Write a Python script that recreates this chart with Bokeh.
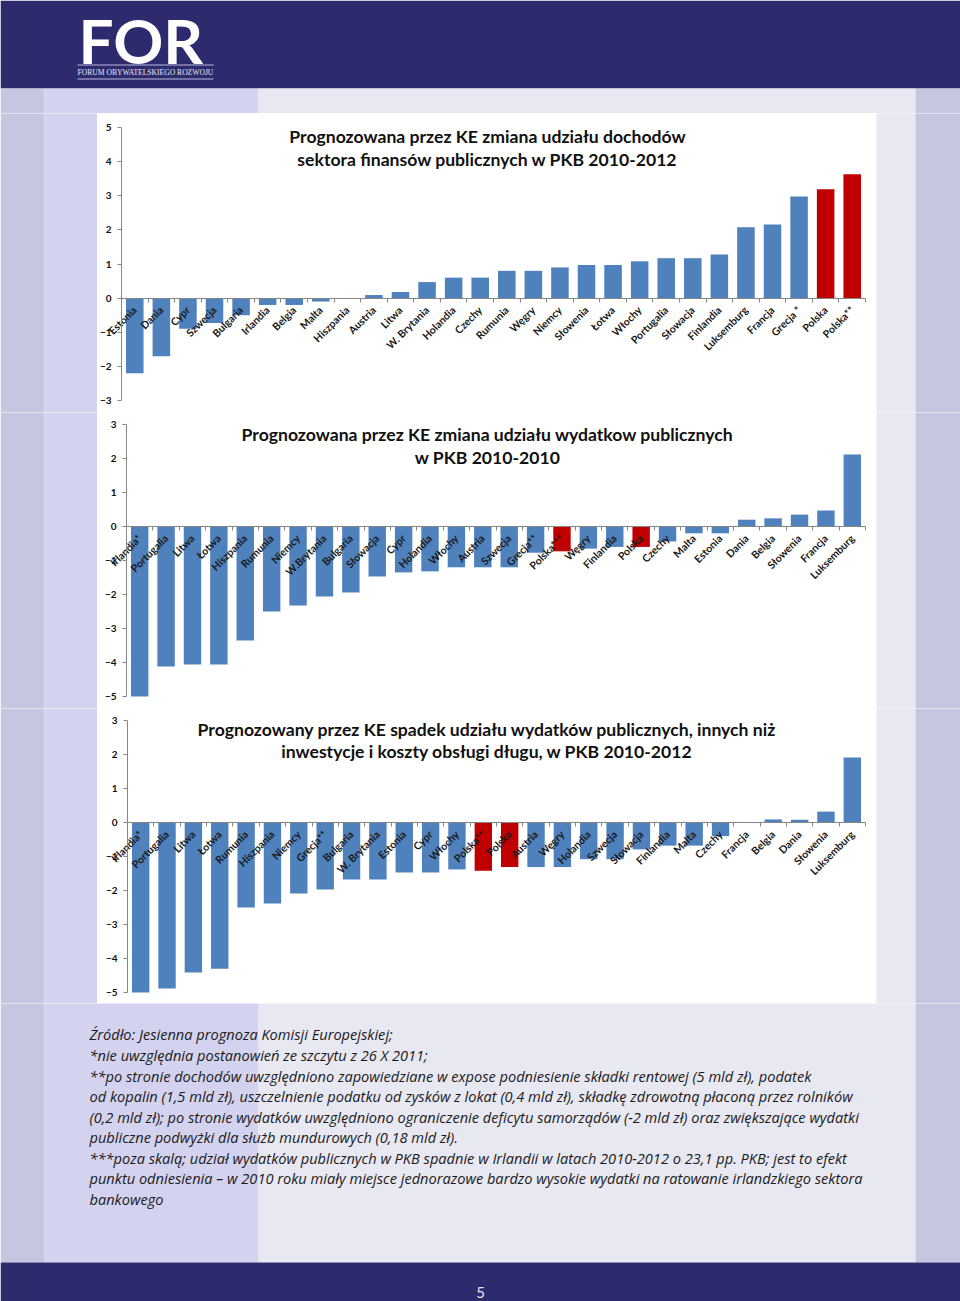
from math import pi
from bokeh.plotting import figure
from bokeh.models import Range1d, FixedTicker, LinearAxis, Label
from bokeh.layouts import column, row
from bokeh.embed import file_html
from bokeh.resources import INLINE
from bokeh.core.properties import value

# ---------------- data ----------------
cats_dochody = ["Estonia", "Dania", "Cypr", "Szwecja", "Bulgaria", "Irlandia", "Belgia", "Malta",
                "Hiszpania", "Austria", "Litwa", "W. Brytania", "Holandia", "Czechy", "Rumunia",
                "Węgry", "Niemcy", "Słowenia", "Łotwa", "Włochy", "Portugalia", "Słowacja",
                "Finlandia", "Luksemburg", "Francja", "Grecja *", "Polska", "Polska**"]
vals_dochody = [-2.2, -1.7, -0.9, -0.73, -0.5, -0.2, -0.2, -0.1,
                0.0, 0.09, 0.18, 0.47, 0.6, 0.6, 0.8,
                0.8, 0.9, 0.97, 0.97, 1.08, 1.17, 1.17,
                1.28, 2.08, 2.16, 2.98, 3.19, 3.63]

cats_wydatki = ["Irlandia*", "Portugalia", "Litwa", "Łotwa", "Hiszpania", "Rumunia", "Niemcy",
                "W.Brytania", "Bulgaria", "Słowacja", "Cypr", "Holandia", "Włochy", "Austria",
                "Szwecja", "Grecja**", "Polska***", "Węgry", "Finlandia", "Polska", "Czechy",
                "Malta", "Estonia", "Dania", "Belgia", "Słowenia", "Francja", "Luksemburg"]
vals_wydatki = [-5.0, -4.12, -4.06, -4.06, -3.35, -2.5, -2.32,
                -2.06, -1.94, -1.47, -1.35, -1.32, -1.2, -1.2,
                -1.2, -0.77, -0.73, -0.65, -0.6, -0.6, -0.44,
                -0.2, -0.2, 0.2, 0.24, 0.35, 0.47, 2.12]

cats_wydatki_bez = ["Irlandia*", "Portugalia", "Litwa", "Łotwa", "Rumunia", "Hiszpania", "Niemcy",
                    "Grecja**", "Bulgaria", "W. Brytania", "Estonia", "Cypr", "Włochy", "Polska**",
                    "Polska", "Austria", "Węgry", "Holandia", "Szwecja", "Słowacja", "Finlandia",
                    "Malta", "Czechy", "Francja", "Belgia", "Dania", "Słowenia", "Luksemburg"]
vals_wydatki_bez = [-5.0, -4.88, -4.41, -4.3, -2.5, -2.38, -2.09,
                    -1.97, -1.68, -1.68, -1.47, -1.47, -1.38, -1.42,
                    -1.31, -1.31, -1.31, -1.08, -1.08, -0.79, -0.68,
                    -0.68, -0.4, 0.0, 0.09, 0.08, 0.32, 1.91]

titles_dochody = ["Prognozowana przez KE zmiana udziału dochodów",
                  "sektora finansów publicznych w PKB 2010-2012"]
titles_wydatki = ["Prognozowana przez KE zmiana udziału wydatkow publicznych",
                  "w PKB 2010-2010"]
titles_wydatki_bez = ["Prognozowany przez KE spadek udziału wydatków publicznych, innych niż",
                      "inwestycje i koszty obsługi długu, w PKB 2010-2012"]

footnotes = [
    "Źródło: Jesienna prognoza Komisji Europejskiej;",
    "*nie uwzględnia postanowień ze szczytu z 26 X 2011;",
    "**po stronie dochodów uwzględniono zapowiedziane w expose podniesienie składki rentowej (5 mld zł), podatek",
    "od kopalin (1,5 mld zł), uszczelnienie podatku od zysków z lokat (0,4 mld zł), składkę zdrowotną płaconą przez rolników",
    "(0,2 mld zł); po stronie wydatków uwzględniono ograniczenie deficytu samorządów (-2 mld zł) oraz zwiększające wydatki",
    "publiczne podwyżki dla służb mundurowych (0,18 mld zł).",
    "***poza skalą; udział wydatków publicznych w PKB spadnie w Irlandii w latach 2010-2012 o 23,1 pp. PKB; jest to efekt",
    "punktu odniesienia – w 2010 roku miały miejsce jednorazowe bardzo wysokie wydatki na ratowanie irlandzkiego sektora",
    "bankowego",
]

# ---------------- styles ----------------
NAVY = "#2d2a6d"
STRIP = "#c7c6e0"
LAV = "#d4d3ef"
LIGHT = "#e8e8f3"
BLUE = "#4f81bd"
RED = "#c00000"
AXIS = "#868686"
FONT = "Lato"


def page_bg(p):
    p.quad(left=[0, 0, 44, 258, 915, 0], right=[960, 44, 258, 915, 960, 960],
           top=[0, 88, 88, 88, 88, 1262], bottom=[88, 1262, 1262, 1262, 1262, 1301],
           fill_color=[NAVY, STRIP, LAV, LIGHT, STRIP, NAVY], line_color=None)


def bg_fig(x0, x1, y0, y1):
    p = figure(width=x1 - x0, height=y1 - y0, x_range=Range1d(x0, x1), y_range=Range1d(y1, y0),
               toolbar_location=None, output_backend="svg", x_axis_type=None, y_axis_type=None,
               min_border=0)
    p.grid.visible = False
    p.outline_line_color = None
    p.background_fill_color = None
    p.border_fill_color = None
    page_bg(p)
    return p


def chart(cats, vals, titles, ymin, ymax, box, frame, title_px):
    x0, x1, y0, y1 = box
    fx0, fx1, fy0, fy1 = frame
    n = len(cats)
    u = n / (fx1 - fx0)               # x data units per pixel
    v = (ymax - ymin) / (fy1 - fy0)   # y data units per pixel
    p = figure(width=x1 - x0, height=y1 - y0,
               x_range=Range1d(-(fx0 - x0) * u, n + (x1 - fx1) * u),
               y_range=Range1d(ymin - (y1 - fy1) * v, ymax + (fy0 - y0) * v),
               toolbar_location=None, output_backend="svg", x_axis_type=None, y_axis_type=None,
               min_border=0)
    p.grid.visible = False
    p.outline_line_color = None
    p.background_fill_color = "white"
    p.border_fill_color = "white"

    xs = [i + 0.5 for i in range(n)]
    colors = [RED if c.startswith("Polska") else BLUE for c in cats]
    p.vbar(x=xs, top=vals, bottom=0, width=0.66, fill_color=colors, line_color=None)

    yax = LinearAxis(ticker=FixedTicker(ticks=list(range(ymin, ymax + 1))), fixed_location=0,
                     bounds=(ymin, ymax))
    yax.axis_line_color = AXIS
    yax.major_tick_line_color = AXIS
    yax.major_tick_out = 4
    yax.major_tick_in = 0
    yax.minor_tick_line_color = None
    yax.major_label_standoff = 6
    yax.major_label_text_font = FONT
    yax.major_label_text_font_style = "bold"
    yax.major_label_text_font_size = "10px"
    yax.major_label_text_color = "#111111"
    p.add_layout(yax, "left")

    tick_ax = LinearAxis(ticker=FixedTicker(ticks=list(range(n + 1))), fixed_location=0,
                         bounds=(0, n))
    tick_ax.axis_line_color = AXIS
    tick_ax.major_tick_line_color = AXIS
    tick_ax.major_tick_out = 4
    tick_ax.major_tick_in = 0
    tick_ax.minor_tick_line_color = None
    tick_ax.major_label_overrides = {i: "" for i in range(n + 1)}
    tick_ax.major_label_text_font_size = "1px"
    p.add_layout(tick_ax, "below")

    lab_ax = LinearAxis(ticker=FixedTicker(ticks=xs), fixed_location=0)
    lab_ax.axis_line_color = None
    lab_ax.major_tick_line_color = None
    lab_ax.minor_tick_line_color = None
    lab_ax.major_label_overrides = {x: c for x, c in zip(xs, cats)}
    lab_ax.major_label_orientation = pi / 4
    lab_ax.major_label_standoff = 4
    lab_ax.major_label_text_font = FONT
    lab_ax.major_label_text_font_style = "bold"
    lab_ax.major_label_text_font_size = "10.5px"
    lab_ax.major_label_text_color = "#1a1a1a"
    p.add_layout(lab_ax, "below")

    tx = (title_px[0] - fx0) * u
    for t, py in zip(titles, title_px[1:]):
        ty = ymax - (py - fy0) * v
        p.add_layout(Label(x=tx, y=ty, text=t, text_align="center", text_baseline="middle",
                           text_font=FONT, text_font_style="bold", text_font_size="17.6px",
                           text_color="#111111"))
    return p


# ---------------- page ----------------
top = bg_fig(0, 960, 0, 113)
top.text(x=[78], y=[39.5], text=["FOR"], text_font=value(FONT), text_font_style="bold",
         text_font_size="62px", text_color="white", text_baseline="middle", text_align="left")
top.segment(x0=[77, 77], y0=[64.5, 78.5], x1=[213, 213], y1=[64.5, 78.5],
            line_color="#b8b8e0", line_width=1)
top.text(x=[77], y=[71.5], text=["FORUM OBYWATELSKIEGO ROZWOJU"], text_font=value("Liberation Serif"),
         text_font_size="7.6px", text_color="#e8e8f6", text_baseline="middle", text_align="left")

c1 = chart(cats_dochody, vals_dochody, titles_dochody, -3, 5,
           (97, 876, 113, 412), (121, 865, 127, 400), (487, 136, 159))
c2 = chart(cats_wydatki, vals_wydatki, titles_wydatki, -5, 3,
           (97, 876, 412, 708), (126, 865, 424, 696), (487, 434, 457))
c3 = chart(cats_wydatki_bez, vals_wydatki_bez, titles_wydatki_bez, -5, 3,
           (97, 876, 708, 1003), (127, 865, 720, 992), (486.5, 729, 751))

rows = []
for c, (ya, yb) in zip([c1, c2, c3], [(113, 412), (412, 708), (708, 1003)]):
    rows.append(row(bg_fig(0, 97, ya, yb), c, bg_fig(876, 960, ya, yb), spacing=0))

bottom = bg_fig(0, 960, 1003, 1301)
line_ys = [1033, 1054, 1075, 1095.5, 1116, 1136.5, 1157, 1177.5, 1198]
bottom.text(x=[89] * len(footnotes), y=line_ys, text=footnotes, text_font=value("Open Sans"),
            text_font_style="italic", text_font_size="14.6px", text_color="#1a1a1a",
            text_baseline="middle", text_align="left")
bottom.text(x=[480], y=[1292], text=["5"], text_font=value(FONT), text_font_size="15px",
            text_color="#e4e4f2", text_baseline="middle", text_align="center")

layout = column(top, *rows, bottom, spacing=0)

open("out.html", "w").write(file_html(layout, INLINE))
